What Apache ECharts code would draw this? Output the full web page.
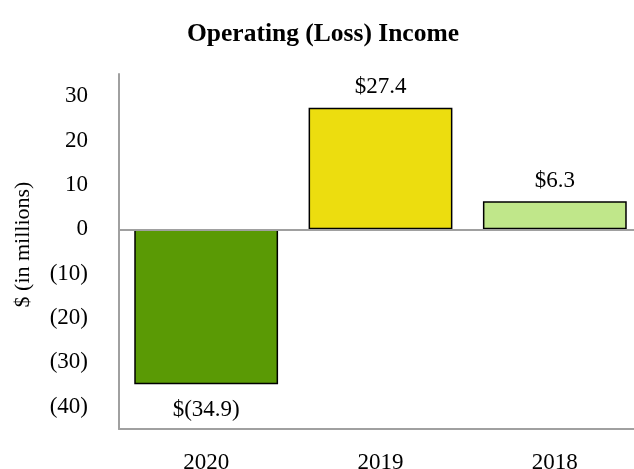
<!DOCTYPE html>
<html>
<head>
<meta charset="utf-8">
<script src="https://cdn.jsdelivr.net/npm/echarts@6/dist/echarts.min.js"></script>
<style>
  html, body { margin: 0; padding: 0; background: #fff; }
  #chart { width: 634px; height: 469px; }
</style>
</head>
<body>
<div id="chart"></div>
<script>
  // data
  var years = ['2020', '2019', '2018'];
  var values = [-34.9, 27.4, 6.3];
  var barColors = ['#5a9a05', '#ecdd0f', '#c0e78a'];

  var serif = '"Liberation Serif", "Times New Roman", serif';

  function money(v) {
    return v < 0 ? '$(' + (-v).toFixed(1) + ')' : '$' + v.toFixed(1);
  }

  var barData = values.map(function (v, i) {
    return {
      value: v,
      itemStyle: { color: barColors[i] },
      label: {
        position: v < 0 ? 'bottom' : 'top',
        distance: v < 0 ? 14 : 9
      }
    };
  });

  var myChart = echarts.init(document.getElementById('chart'));
  var option = {
    backgroundColor: '#ffffff',
    animation: false,
    title: {
      text: 'Operating (Loss) Income',
      left: 182,
      top: 16,
      textStyle: {
        fontFamily: serif,
        fontWeight: 'bold',
        fontSize: 25.5,
        color: '#000'
      }
    },
    grid: {
      left: 119,
      top: 74,
      width: 523,
      height: 355,
      outerBoundsMode: 'none'
    },
    xAxis: {
      type: 'category',
      data: years,
      axisLine: {
        onZero: false,
        lineStyle: { color: '#a0a0a0', width: 2 }
      },
      axisTick: { show: false },
      axisLabel: {
        margin: 22,
        fontFamily: serif,
        fontSize: 23,
        color: '#000'
      }
    },
    yAxis: {
      type: 'value',
      min: -45,
      max: 35,
      interval: 5,
      name: '$ (in millions)',
      nameLocation: 'middle',
      nameRotate: 90,
      nameGap: 85,
      nameTextStyle: {
        fontFamily: serif,
        fontSize: 22,
        color: '#000',
        padding: [0, 0, 0, 14]
      },
      axisLine: {
        show: true,
        lineStyle: { color: '#a0a0a0', width: 2 }
      },
      axisTick: { show: false },
      splitLine: { show: false },
      axisLabel: {
        margin: 31,
        fontFamily: serif,
        fontSize: 23,
        color: '#000',
        formatter: function (v) {
          if (v % 10 !== 0) return '';
          return v < 0 ? '(' + (-v) + ')' : String(v);
        }
      }
    },
    series: [{
      type: 'bar',
      data: barData,
      barWidth: '82.5%',
      itemStyle: {
        borderColor: '#000',
        borderWidth: 1.5
      },
      label: {
        show: true,
        fontFamily: serif,
        fontSize: 23,
        color: '#000',
        formatter: function (p) { return money(p.value); }
      },
      markLine: {
        silent: true,
        symbol: 'none',
        label: { show: false },
        lineStyle: { color: '#a0a0a0', width: 2, type: 'solid' },
        data: [{ yAxis: 0 }]
      },
      z: 3
    }]
  };
  myChart.setOption(option);
</script>
</body>
</html>
